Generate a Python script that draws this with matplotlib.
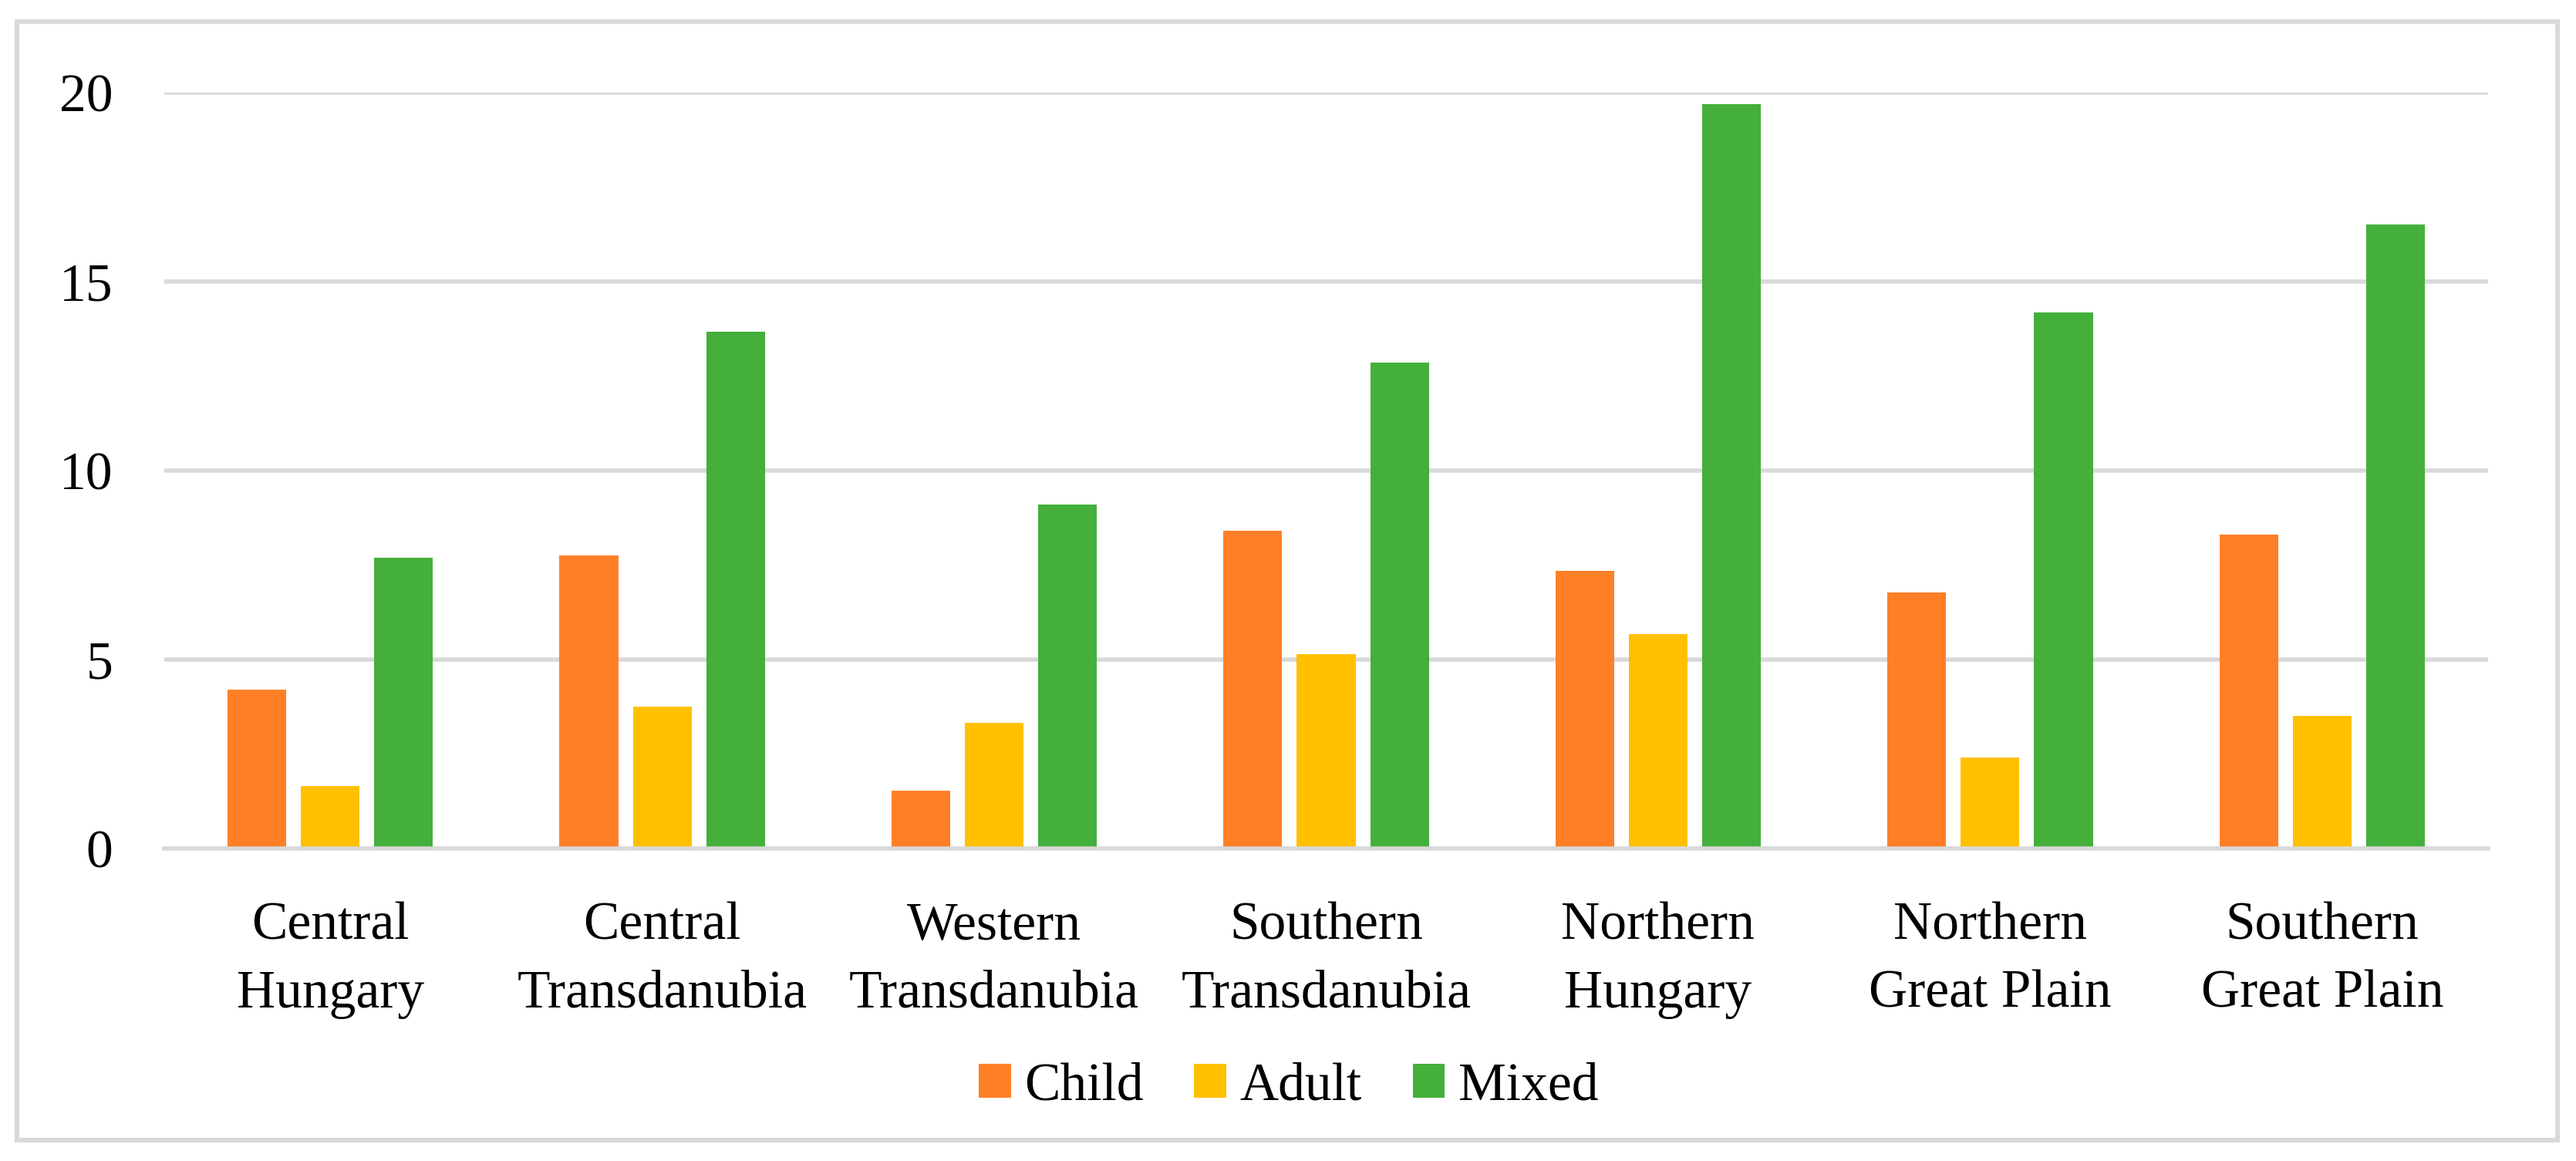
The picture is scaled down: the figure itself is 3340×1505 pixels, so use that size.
import numpy as np
import matplotlib
matplotlib.use('Agg')
import matplotlib.pyplot as plt
from matplotlib.patches import Rectangle

plt.rcParams['font.family'] = ['Liberation Serif', 'DejaVu Serif']

regions = ['Central\nHungary', 'Central\nTransdanubia', 'Western\nTransdanubia',
           'Southern\nTransdanubia', 'Northern\nHungary', 'Northern\nGreat Plain',
           'Southern\nGreat Plain']
child = [4.21, 7.75, 1.53, 8.40, 7.35, 6.78, 8.31]
adult = [1.66, 3.76, 3.32, 5.15, 5.67, 2.40, 3.52]
mixed = [7.69, 13.68, 9.10, 12.86, 19.69, 14.19, 16.51]

series = [('Child', child, '#FF7F27'),
          ('Adult', adult, '#FFC000'),
          ('Mixed', mixed, '#45AF3C')]

W, H, DPI = 3341, 1505, 200
fig = plt.figure(figsize=(W / DPI, H / DPI), dpi=DPI)
ax = fig.add_axes([213 / W, 1 - 1100 / H, (3226 - 213) / W, (1100 - 120) / H])

# outer chart border
fig.patches.append(Rectangle((22 / W, 1 - 1478 / H), (3316 - 22) / W, (1478 - 28) / H,
                             transform=fig.transFigure, fill=False,
                             edgecolor='#D9D9D9', linewidth=2.2))

x = np.arange(len(regions))
width = 0.177
step = 0.221
for i, (name, vals, col) in enumerate(series):
    ax.bar(x + (i - 1) * step, vals, width, color=col, label=name, zorder=3)

ax.set_xlim(-0.5, len(regions) - 0.5)
ax.set_ylim(0, 20)
ax.set_yticks([0, 5, 10, 15, 20])
ax.grid(axis='y', color='#D9D9D9', linewidth=2.0, zorder=0)
for s in ['top', 'right', 'left']:
    ax.spines[s].set_visible(False)
ax.spines['bottom'].set_color('#D9D9D9')
ax.spines['bottom'].set_linewidth(2.0)
ax.spines['bottom'].set_zorder(4)

ax.set_xticks(x)
ax.set_xticklabels(regions, linespacing=1.5)
ax.tick_params(axis='both', length=0, labelsize=25, colors='black')
ax.tick_params(axis='y', pad=24)
ax.tick_params(axis='x', pad=25)

fig.legend(loc='center', bbox_to_anchor=(0.5, 1 - 1409 / H), ncol=3, frameon=False,
           fontsize=25, handlelength=0.6, handleheight=0.6, handletextpad=0.25,
           columnspacing=0.95)

fig.savefig('out.png', dpi=DPI)
